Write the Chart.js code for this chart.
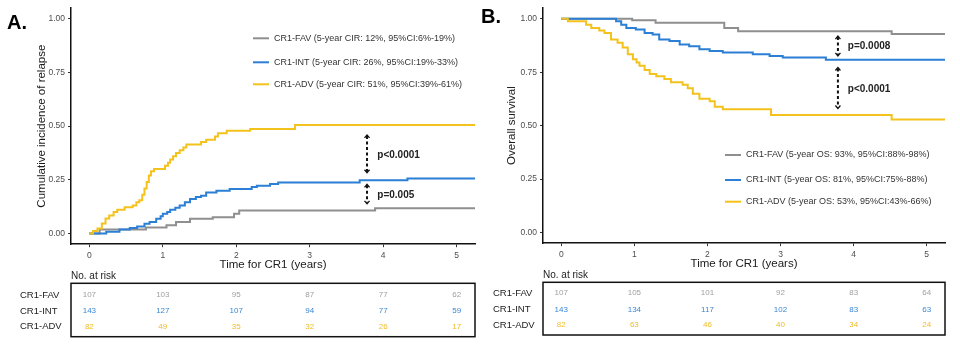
<!DOCTYPE html>
<html>
<head>
<meta charset="utf-8">
<script src="https://cdn.jsdelivr.net/npm/chart.js@4.4.1/dist/chart.umd.min.js"></script>
<style>
  body { margin: 0; background: #fff; }
  #wrap { position: relative; width: 960px; height: 344px; }
  canvas { position: absolute; top: 0; }
</style>
</head>
<body>
<div id="wrap">
  <canvas id="chartA" width="480" height="344" style="left:0"></canvas>
  <canvas id="chartB" width="480" height="344" style="left:480px"></canvas>
</div>
<script>
// groups and colours
const groups = ['CR1-FAV', 'CR1-INT', 'CR1-ADV'];
const lineColors = ['#8f8f8f', '#2b7fd4', '#f4c21c'];
const riskColors = ['#a0a0a0', '#3a87d6', '#f0bc2a'];

// axis ticks
const xTicks = [0, 1, 2, 3, 4, 5];
const yTicks = [0, 0.25, 0.5, 0.75, 1];

// Panel A: cumulative incidence of relapse (step times / values)
const timeA_FAV = [0, 0.14, 0.77, 1.05, 1.18, 1.37, 1.68, 1.97, 2.04, 3.89, 5.25];
const cirA_FAV  = [0, 0.018, 0.028, 0.038, 0.053, 0.069, 0.076, 0.092, 0.107, 0.118, 0.118];

const timeA_INT = [0, 0.23, 0.41, 0.55, 0.65, 0.75, 0.82, 0.91, 0.97, 1.0, 1.06, 1.10, 1.17, 1.23, 1.30, 1.37,
                   1.45, 1.52, 1.59, 1.73, 1.91, 2.21, 2.28, 2.46, 2.57, 3.68, 4.33, 5.25];
const cirA_INT  = [0, 0.008, 0.018, 0.025, 0.032, 0.045, 0.053, 0.069, 0.08, 0.092, 0.1, 0.11, 0.12, 0.13, 0.145, 0.161,
                   0.17, 0.176, 0.191, 0.199, 0.207, 0.217, 0.222, 0.23, 0.237, 0.248, 0.256, 0.256];

const timeA_ADV = [0, 0.05, 0.11, 0.17, 0.22, 0.27, 0.33, 0.38, 0.48, 0.59, 0.64, 0.68, 0.72, 0.75, 0.78, 0.81, 0.84,
                   0.88, 1.03, 1.07, 1.10, 1.14, 1.18, 1.23, 1.28, 1.32, 1.52, 1.59, 1.71, 1.75, 1.87, 2.19, 2.80, 5.25];
const cirA_ADV  = [0, 0.012, 0.023, 0.047, 0.07, 0.084, 0.1, 0.11, 0.122, 0.13, 0.145, 0.155, 0.18, 0.21, 0.24, 0.27, 0.29,
                   0.30, 0.315, 0.33, 0.345, 0.36, 0.375, 0.388, 0.40, 0.414, 0.426, 0.437, 0.452, 0.467, 0.478, 0.487, 0.505, 0.505];

// Panel B: overall survival
const timeB_FAV = [0, 0.97, 1.29, 2.23, 2.42, 4.52, 5.25];
const osB_FAV   = [1, 0.993, 0.982, 0.957, 0.942, 0.929, 0.929];

const timeB_INT = [0, 0.75, 0.82, 0.89, 1.02, 1.14, 1.25, 1.34, 1.48, 1.62, 1.75, 1.89, 2.03, 2.21, 2.62, 2.85, 3.03, 3.62, 5.25];
const osB_INT   = [1, 0.988, 0.972, 0.957, 0.95, 0.934, 0.926, 0.903, 0.896, 0.88, 0.872, 0.857, 0.849, 0.842, 0.834, 0.826, 0.819, 0.808, 0.808];

const timeB_ADV = [0, 0.09, 0.34, 0.41, 0.52, 0.59, 0.68, 0.77, 0.84, 0.91, 0.98, 1.03, 1.07, 1.14, 1.21, 1.30, 1.41, 1.50,
                   1.66, 1.73, 1.80, 1.89, 2.03, 2.10, 2.21, 2.87, 4.52, 5.25];
const osB_ADV   = [1, 0.988, 0.972, 0.957, 0.945, 0.934, 0.903, 0.888, 0.865, 0.834, 0.811, 0.795, 0.78, 0.76, 0.742, 0.731, 0.718, 0.703,
                   0.691, 0.675, 0.649, 0.626, 0.614, 0.588, 0.577, 0.55, 0.529, 0.529];

// legends
const legendA = [
    'CR1-FAV (5-year CIR: 12%, 95%CI:6%-19%)',
    'CR1-INT (5-year CIR: 26%, 95%CI:19%-33%)',
    'CR1-ADV (5-year CIR: 51%, 95%CI:39%-61%)'
];
const legendB = [
    'CR1-FAV (5-year OS: 93%, 95%CI:88%-98%)',
    'CR1-INT (5-year OS: 81%, 95%CI:75%-88%)',
    'CR1-ADV (5-year OS: 53%, 95%CI:43%-66%)'
];

// numbers at risk
const riskA_FAV = [107, 103, 95, 87, 77, 62];
const riskA_INT = [143, 127, 107, 94, 77, 59];
const riskA_ADV = [82, 49, 35, 32, 26, 17];
const riskB_FAV = [107, 105, 101, 92, 83, 64];
const riskB_INT = [143, 134, 117, 102, 83, 63];
const riskB_ADV = [82, 63, 46, 40, 34, 24];

// p-value annotations (data coordinates)
const pvalsA = [
    { x: 3.78, y1: 0.459, y2: 0.283, tx: 3.92, ty: 0.363, text: 'p<0.0001' },
    { x: 3.78, y1: 0.229, y2: 0.138, tx: 3.92, ty: 0.179, text: 'p=0.005' }
];
const pvalsB = [
    { x: 3.785, y1: 0.919, y2: 0.826, tx: 3.92, ty: 0.873, text: 'p=0.0008' },
    { x: 3.785, y1: 0.772, y2: 0.580, tx: 3.92, ty: 0.672, text: 'p<0.0001' }
];

const FONT = 'Arial, "Liberation Sans", sans-serif';

function toPoints(times, values) {
    return times.map((t, i) => ({ x: t, y: values[i] }));
}

function drawArrowHead(ctx, x, y, dir) {
    // dir = -1 up, 1 down
    ctx.beginPath();
    ctx.moveTo(x - 2.5, y - dir * 3);
    ctx.lineTo(x, y);
    ctx.lineTo(x + 2.5, y - dir * 3);
    ctx.stroke();
}

const kmExtras = {
    id: 'kmExtras',
    afterDraw(chart, args, o) {
        const ctx = chart.ctx;
        const xs = chart.scales.x;
        const ys = chart.scales.y;
        const area = chart.chartArea;
        ctx.save();

        // panel label
        ctx.fillStyle = '#000';
        ctx.font = 'bold 20px ' + FONT;
        ctx.textBaseline = 'middle';
        ctx.textAlign = 'left';
        ctx.fillText(o.label, o.labelX, o.labelY);

        // legend
        ctx.font = '9px ' + FONT;
        o.legend.forEach((txt, i) => {
            const y = o.legendY[i];
            ctx.strokeStyle = lineColors[i];
            ctx.lineWidth = 2;
            ctx.beginPath();
            ctx.moveTo(o.legendX, y);
            ctx.lineTo(o.legendX + 16, y);
            ctx.stroke();
            ctx.fillStyle = '#333';
            ctx.fillText(txt, o.legendX + 21, y);
        });

        // p-value arrows
        o.pvals.forEach(p => {
            const px = xs.getPixelForValue(p.x);
            const top = ys.getPixelForValue(p.y1);
            const bot = ys.getPixelForValue(p.y2);
            ctx.strokeStyle = '#111';
            ctx.lineWidth = 2;
            ctx.setLineDash([3, 2.5]);
            ctx.beginPath();
            ctx.moveTo(px, top + 1);
            ctx.lineTo(px, bot - 1);
            ctx.stroke();
            ctx.setLineDash([]);
            ctx.lineWidth = 1.3;
            drawArrowHead(ctx, px, top, -1);
            drawArrowHead(ctx, px, bot, 1);
            ctx.fillStyle = '#222';
            ctx.font = 'bold 10px ' + FONT;
            ctx.textAlign = 'left';
            ctx.fillText(p.text, xs.getPixelForValue(p.tx), ys.getPixelForValue(p.ty));
        });

        // risk table
        ctx.fillStyle = '#222';
        ctx.font = '10px ' + FONT;
        ctx.textAlign = 'left';
        ctx.fillText('No. at risk', area.left, o.riskTitleY);
        ctx.strokeStyle = '#111';
        ctx.lineWidth = 1.5;
        ctx.strokeRect(area.left, o.boxTop, area.right - area.left, o.boxBottom - o.boxTop);
        o.risk.forEach((row, i) => {
            const y = o.rowY[i];
            ctx.fillStyle = '#222';
            ctx.font = '9.5px ' + FONT;
            ctx.textAlign = 'left';
            ctx.fillText(groups[i], o.rowLabelX, y);
            ctx.fillStyle = riskColors[i];
            ctx.font = '8px ' + FONT;
            ctx.textAlign = 'center';
            row.forEach((n, j) => {
                ctx.fillText(String(n), xs.getPixelForValue(xTicks[j]), y);
            });
        });
        ctx.restore();
    }
};

function makeChart(id, series, yTitle, extras, pad, yWidth, yTitlePad) {
    // ADV first so it is painted on top
    const order = [2, 1, 0];
    const datasets = order.map(i => ({
        label: groups[i],
        data: series[i],
        borderColor: lineColors[i],
        borderWidth: 2,
        stepped: true,
        pointRadius: 0,
        fill: false
    }));
    return new Chart(document.getElementById(id), {
        type: 'line',
        data: { datasets },
        options: {
            responsive: false,
            animation: false,
            devicePixelRatio: 1,
            layout: { padding: pad },
            plugins: {
                legend: { display: false },
                tooltip: { enabled: false },
                kmExtras: extras
            },
            scales: {
                x: {
                    type: 'linear',
                    min: -0.25,
                    max: 5.25,
                    afterBuildTicks: axis => { axis.ticks = xTicks.map(v => ({ value: v })); },
                    afterFit: axis => { axis.height = 30; },
                    grid: { drawOnChartArea: false, drawTicks: true, tickLength: 3, color: '#333' },
                    border: { display: true, color: '#111', width: 1.5 },
                    ticks: { color: '#4d4d4d', font: { family: FONT, size: 8.5 }, padding: 3, maxRotation: 0 },
                    title: {
                        display: true, text: 'Time for CR1 (years)', color: '#1a1a1a',
                        font: { family: FONT, size: 11.5 }, padding: { top: 0, bottom: 2 }
                    }
                },
                y: {
                    type: 'linear',
                    min: -0.05,
                    max: 1.05,
                    afterBuildTicks: axis => { axis.ticks = yTicks.map(v => ({ value: v })); },
                    afterFit: axis => { axis.width = yWidth; },
                    grid: { drawOnChartArea: false, drawTicks: true, tickLength: 3, color: '#333' },
                    border: { display: true, color: '#111', width: 1.5 },
                    ticks: { color: '#4d4d4d', font: { family: FONT, size: 8.5 }, padding: 3,
                             callback: v => v.toFixed(2) },
                    title: {
                        display: true, text: yTitle, color: '#1a1a1a',
                        font: { family: FONT, size: 11.5 }, padding: { top: yTitlePad, bottom: 0 }
                    }
                }
            }
        },
        plugins: [kmExtras]
    });
}

makeChart('chartA',
    [toPoints(timeA_FAV, cirA_FAV), toPoints(timeA_INT, cirA_INT), toPoints(timeA_ADV, cirA_ADV)],
    'Cumulative incidence of relapse',
    {
        label: 'A.', labelX: 7, labelY: 23,
        legend: legendA, legendX: 253, legendY: [38.3, 62.3, 84.3],
        pvals: pvalsA,
        risk: [riskA_FAV, riskA_INT, riskA_ADV],
        riskTitleY: 276.7, boxTop: 283.3, boxBottom: 336.7,
        rowY: [295, 311, 326.7], rowLabelX: 20
    },
    { top: 4.8, right: 5, bottom: 69.8, left: 0 }, 71, 34.8);

makeChart('chartB',
    [toPoints(timeB_FAV, osB_FAV), toPoints(timeB_INT, osB_INT), toPoints(timeB_ADV, osB_ADV)],
    'Overall survival',
    {
        label: 'B.', labelX: 1, labelY: 17,
        legend: legendB, legendX: 245, legendY: [155, 180, 201.7],
        pvals: pvalsB,
        risk: [riskB_FAV, riskB_INT, riskB_ADV],
        riskTitleY: 275, boxTop: 282.3, boxBottom: 335,
        rowY: [293, 309.7, 325], rowLabelX: 13
    },
    { top: 4.9, right: 15, bottom: 70.9, left: 0 }, 63, 24.8);
</script>
</body>
</html>
